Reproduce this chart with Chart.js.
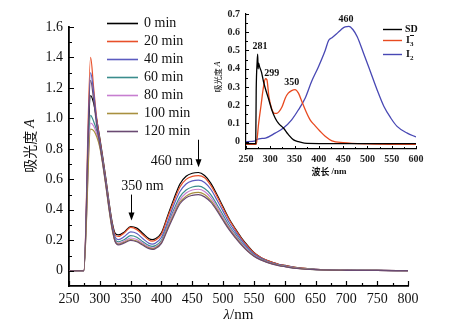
<!DOCTYPE html>
<html>
<head>
<meta charset="utf-8">
<script src="https://cdn.jsdelivr.net/npm/chart.js@4.4.1/dist/chart.umd.min.js"></script>
<style>
  html, body { margin:0; padding:0; background:#fff; }
  #wrap { position:relative; width:449px; height:328px; overflow:hidden; background:#fff; }
  #main { position:absolute; left:0; top:0; }
  #inset { position:absolute; left:205px; top:0; }
</style>
</head>
<body>
<div id="wrap">
  <canvas id="main" width="449" height="328"></canvas>
  <canvas id="inset" width="244" height="180"></canvas>
</div>
<script>
// ---------------- Main chart data ----------------
const wavelengths = [250,274,285,290,295,300,305,310,315,320,325,330,340,350,360,370,380,385,390,400,410,420,430,440,450,460,470,480,490,500,510,520,530,540,550,560,570,580,590,600,620,650,700,750,800];
const seriesLabels = ['0 min','20 min','40 min','60 min','80 min','100 min','120 min'];
const seriesColors = ['#000000','#e8502a','#5c5cc0','#3a8c8c','#c77ed0','#a8903f','#6a4a72'];
const s0min   = [0,0,1.15,1.10,0.99,0.87,0.74,0.60,0.45,0.32,0.245,0.235,0.255,0.29,0.28,0.245,0.21,0.205,0.21,0.25,0.36,0.47,0.57,0.62,0.64,0.645,0.625,0.575,0.50,0.42,0.34,0.275,0.215,0.165,0.12,0.09,0.07,0.055,0.043,0.035,0.02,0.01,0.004,0.002,0.001];
const s20min  = [0,0,1.40,1.20,1.00,0.86,0.73,0.59,0.44,0.31,0.235,0.225,0.25,0.285,0.27,0.235,0.20,0.195,0.20,0.24,0.35,0.455,0.55,0.60,0.62,0.625,0.61,0.56,0.49,0.41,0.335,0.27,0.21,0.16,0.118,0.09,0.07,0.055,0.043,0.035,0.02,0.01,0.004,0.002,0.001];
const s40min  = [0,0,1.30,1.17,0.98,0.85,0.72,0.58,0.43,0.30,0.22,0.205,0.225,0.255,0.245,0.21,0.18,0.175,0.18,0.22,0.32,0.43,0.52,0.57,0.59,0.595,0.58,0.535,0.465,0.39,0.315,0.255,0.20,0.15,0.11,0.085,0.065,0.05,0.04,0.032,0.018,0.009,0.004,0.002,0.001];
const s60min  = [0,0,1.02,0.98,0.92,0.83,0.71,0.57,0.42,0.29,0.205,0.19,0.205,0.23,0.22,0.19,0.165,0.16,0.165,0.20,0.30,0.40,0.485,0.53,0.55,0.555,0.54,0.50,0.435,0.365,0.295,0.24,0.185,0.14,0.104,0.08,0.062,0.048,0.038,0.03,0.017,0.008,0.003,0.002,0.001];
const s80min  = [0,0,0.97,0.95,0.90,0.82,0.70,0.56,0.41,0.28,0.195,0.18,0.195,0.215,0.205,0.18,0.155,0.15,0.155,0.19,0.29,0.385,0.465,0.51,0.53,0.535,0.52,0.48,0.42,0.35,0.285,0.23,0.178,0.135,0.10,0.077,0.06,0.046,0.036,0.029,0.016,0.008,0.003,0.002,0.001];
const s100min = [0,0,0.93,0.92,0.88,0.81,0.69,0.55,0.40,0.27,0.19,0.175,0.188,0.205,0.195,0.172,0.15,0.145,0.15,0.185,0.28,0.37,0.45,0.49,0.51,0.515,0.50,0.462,0.405,0.337,0.275,0.222,0.172,0.13,0.097,0.075,0.058,0.045,0.035,0.028,0.016,0.008,0.003,0.002,0.001];
const s120min = [0,0,1.25,1.12,0.95,0.83,0.70,0.56,0.41,0.28,0.19,0.17,0.183,0.20,0.19,0.167,0.145,0.14,0.145,0.18,0.27,0.36,0.44,0.48,0.495,0.50,0.485,0.45,0.395,0.33,0.268,0.216,0.168,0.127,0.095,0.073,0.057,0.044,0.034,0.027,0.015,0.007,0.003,0.002,0.001];
const mainSeries = [s0min,s20min,s40min,s60min,s80min,s100min,s120min];
const xTicks = [250,300,350,400,450,500,550,600,650,700,750,800];
const xMinorTicks = [275,325,375,425,475,525,575,625,675,725,775];
const yTicks = [0,0.2,0.4,0.6,0.8,1.0,1.2,1.4,1.6];
const yMinorTicks = [0.1,0.3,0.5,0.7,0.9,1.1,1.3,1.5];
const mainAnnotations = [{text:'350 nm', x:369, y:0.553}, {text:'460 nm', x:417, y:0.72}];
const mainArrows = [{x:350, from:0.50, to:0.33}, {x:460, from:0.86, to:0.68}];

// ---------------- Inset data ----------------
const sdWave  = [250,270,271,273,274,275,276,278,282,286,290,297,303,310,317,327,337,348,358,370,400,600];
const sdAbs   = [-0.01,-0.01,0.28,0.44,0.48,0.40,0.43,0.41,0.38,0.33,0.29,0.23,0.175,0.13,0.10,0.075,0.04,0.01,0.0,-0.008,-0.01,-0.01];
const i3Wave  = [250,271,276,281,286,290,293,297,303,309,313,318,324,331,337,344,351,358,365,372,382,392,403,413,427,450,500,600];
const i3Abs   = [-0.015,-0.015,0.10,0.20,0.30,0.345,0.34,0.25,0.18,0.155,0.155,0.165,0.19,0.24,0.266,0.28,0.285,0.266,0.22,0.175,0.12,0.088,0.056,0.03,0.005,-0.005,-0.012,-0.015];
const i2Wave  = [250,270,272,290,310,327,344,358,372,385,399,413,420,427,436,444,454,462,470,479,492,506,520,534,548,561,582,600];
const i2Abs   = [0.0,0.005,0.012,0.02,0.047,0.075,0.12,0.175,0.24,0.33,0.41,0.50,0.555,0.57,0.59,0.61,0.63,0.632,0.615,0.575,0.485,0.385,0.284,0.193,0.13,0.084,0.047,0.026];
const insetLabels = ['SD','I3-','I2'];
const insetColors = ['#000000','#e84a20','#4848b4'];
const insetXTicks = [250,300,350,400,450,500,550,600];
const insetXMinor = [275,325,375,425,475,525,575];
const insetYTicks = [0,0.1,0.2,0.3,0.4,0.5,0.6,0.7];
const insetYMinor = [0.05,0.15,0.25,0.35,0.45,0.55,0.65];
const insetAnnotations = [{text:'281', x:279, y:0.52}, {text:'299', x:303, y:0.375}, {text:'350', x:344, y:0.325}, {text:'460', x:456, y:0.67}];

const SERIF = '"Liberation Serif", "Times New Roman", serif';
const CJK = '"Noto Sans CJK SC", sans-serif';

function tickPlugin(cfg) {
  return {
    id: 'inTicks',
    afterDraw(chart) {
      const ctx = chart.ctx, xs = chart.scales.x, ys = chart.scales.y, a = chart.chartArea;
      ctx.save();
      ctx.strokeStyle = '#000';
      ctx.lineWidth = cfg.lw;
      const bottom = ys.getPixelForValue(ys.min);
      const left = a.left;
      ctx.beginPath();
      cfg.xMajor.forEach(v => { const px = Math.round(xs.getPixelForValue(v)) + 0.5; ctx.moveTo(px, bottom); ctx.lineTo(px, bottom - cfg.major); });
      cfg.xMinor.forEach(v => { const px = Math.round(xs.getPixelForValue(v)) + 0.5; ctx.moveTo(px, bottom); ctx.lineTo(px, bottom - cfg.minor); });
      cfg.yMajor.forEach(v => { const py = Math.round(ys.getPixelForValue(v)) + 0.5; ctx.moveTo(left, py); ctx.lineTo(left + cfg.major, py); });
      cfg.yMinor.forEach(v => { const py = Math.round(ys.getPixelForValue(v)) + 0.5; ctx.moveTo(left, py); ctx.lineTo(left + cfg.minor, py); });
      ctx.stroke();
      ctx.restore();
    }
  };
}

const mainDecor = {
  id: 'mainDecor',
  afterDraw(chart) {
    const ctx = chart.ctx, xs = chart.scales.x, ys = chart.scales.y;
    ctx.save();
    // legend (in series order)
    ctx.textBaseline = 'middle';
    ctx.textAlign = 'left';
    ctx.font = '14px ' + SERIF;
    seriesLabels.forEach((lab, i) => {
      const y = 23 + 18 * i;
      ctx.strokeStyle = seriesColors[i]; ctx.lineWidth = 1.6;
      ctx.beginPath(); ctx.moveTo(107, y + 0.5); ctx.lineTo(138, y + 0.5); ctx.stroke();
      ctx.fillStyle = '#111'; ctx.fillText(lab, 144, y);
    });
    // annotations
    ctx.textAlign = 'center';
    ctx.font = '14px ' + SERIF;
    mainAnnotations.forEach(an => ctx.fillText(an.text, xs.getPixelForValue(an.x), ys.getPixelForValue(an.y)));
    ctx.strokeStyle = '#000'; ctx.fillStyle = '#000'; ctx.lineWidth = 1;
    mainArrows.forEach(ar => {
      const px = Math.round(xs.getPixelForValue(ar.x)) + 0.5;
      const y1 = ys.getPixelForValue(ar.from), y2 = ys.getPixelForValue(ar.to);
      ctx.beginPath(); ctx.moveTo(px, y1); ctx.lineTo(px, y2 - 6); ctx.stroke();
      ctx.beginPath(); ctx.moveTo(px - 3, y2 - 8); ctx.lineTo(px + 3, y2 - 8); ctx.lineTo(px, y2); ctx.closePath(); ctx.fill();
    });
    // y title
    ctx.save();
    ctx.translate(30, 146);
    ctx.rotate(-Math.PI / 2);
    ctx.textBaseline = 'middle';
    const t1 = '吸光度 ';
    ctx.font = 'italic 14px ' + SERIF;
    const wA = ctx.measureText('A').width;
    ctx.font = '14px ' + CJK;
    const w1 = ctx.measureText(t1).width;
    const start = -(w1 + wA) / 2;
    ctx.textAlign = 'left';
    ctx.fillStyle = '#111';
    ctx.fillText(t1, start, 0);
    ctx.font = 'italic 14px ' + SERIF;
    ctx.fillText('A', start + w1, 0);
    ctx.restore();
    // x title
    ctx.textBaseline = 'middle';
    ctx.textAlign = 'left';
    ctx.font = 'italic 15px ' + SERIF;
    const wl = ctx.measureText('λ').width;
    ctx.font = '15px ' + SERIF;
    const wr = ctx.measureText('/nm').width;
    const xc = (chart.chartArea.left + chart.chartArea.right) / 2;
    const sx = xc - (wl + wr) / 2;
    ctx.fillStyle = '#111';
    ctx.font = 'italic 15px ' + SERIF;
    ctx.fillText('λ', sx, 315);
    ctx.font = '15px ' + SERIF;
    ctx.fillText('/nm', sx + wl, 315);
    ctx.restore();
  }
};

// datasets listed last-to-first so that the 0 min curve is drawn on top
const mainDatasets = mainSeries.map((s, i) => ({
  label: seriesLabels[i],
  data: wavelengths.map((w, j) => ({x: w, y: s[j]})),
  borderColor: seriesColors[i],
  borderWidth: 1.2,
  pointRadius: 0,
  fill: false,
  cubicInterpolationMode: 'monotone'
})).reverse();

new Chart(document.getElementById('main'), {
  type: 'line',
  data: {datasets: mainDatasets},
  options: {
    responsive: false, animation: false, devicePixelRatio: 1,
    layout: {padding: {left: 0, right: 41, top: 27, bottom: 0}},
    plugins: {legend: {display: false}, tooltip: {enabled: false}},
    scales: {
      x: {
        type: 'linear', min: 250, max: 800,
        afterFit(s) { s.height = 42; },
        afterBuildTicks(s) { s.ticks = xTicks.map(v => ({value: v})); },
        ticks: {font: {family: SERIF, size: 14}, color: '#111', padding: 5, maxRotation: 0, autoSkip: false},
        grid: {drawOnChartArea: false, drawTicks: false},
        border: {color: '#000', width: 1.8}
      },
      y: {
        type: 'linear', min: -0.1, max: 1.6,
        afterFit(s) { s.width = 69; },
        afterBuildTicks(s) { s.ticks = yTicks.map(v => ({value: v})); },
        ticks: {font: {family: SERIF, size: 14}, color: '#111', padding: 6, autoSkip: false,
                callback: v => (v === 0 ? '0' : Number(v).toFixed(1))},
        grid: {drawOnChartArea: false, drawTicks: false},
        border: {color: '#000', width: 1.8}
      }
    }
  },
  plugins: [mainDecor, tickPlugin({xMajor: xTicks, xMinor: xMinorTicks, yMajor: yTicks, yMinor: yMinorTicks, major: 5, minor: 3, lw: 1.2})]
});

// ---------------- Inset chart ----------------
const insetDecor = {
  id: 'insetDecor',
  afterDraw(chart) {
    const ctx = chart.ctx, xs = chart.scales.x, ys = chart.scales.y;
    ctx.save();
    ctx.fillStyle = '#111';
    ctx.textAlign = 'center';
    ctx.textBaseline = 'middle';
    ctx.font = 'bold 10px ' + SERIF;
    insetAnnotations.forEach(an => ctx.fillText(an.text, xs.getPixelForValue(an.x), ys.getPixelForValue(an.y)));
    // legend
    const rows = [29, 40, 54];
    chart.data.datasets.forEach((ds, i) => {
      const y = rows[i];
      ctx.strokeStyle = ds.borderColor; ctx.lineWidth = 1.4;
      ctx.beginPath(); ctx.moveTo(178, y + 0.5); ctx.lineTo(197, y + 0.5); ctx.stroke();
      ctx.fillStyle = '#111';
      ctx.textAlign = 'left';
      ctx.font = 'bold 10px ' + SERIF;
      if (i === 0) {
        ctx.fillText('SD', 200, y);
      } else {
        ctx.fillText('I', 201, y);
        ctx.font = 'bold 7px ' + SERIF;
        ctx.fillText(i === 1 ? '3' : '2', 205, y + 4);
        if (i === 1) {
          ctx.strokeStyle = '#111'; ctx.lineWidth = 1;
          ctx.beginPath(); ctx.moveTo(205, y - 4.5); ctx.lineTo(209, y - 4.5); ctx.stroke();
        }
      }
    });
    // y title
    ctx.save();
    ctx.translate(13, 77);
    ctx.rotate(-Math.PI / 2);
    ctx.textAlign = 'left';
    ctx.font = '8px ' + CJK;
    const t = '吸光度 ';
    const w1 = ctx.measureText(t).width;
    ctx.font = 'italic 8px ' + SERIF;
    const w2 = ctx.measureText('A').width;
    ctx.font = '8px ' + CJK;
    ctx.fillText(t, -(w1 + w2) / 2, 0);
    ctx.font = 'italic 8px ' + SERIF;
    ctx.fillText('A', -(w1 + w2) / 2 + w1, 0);
    ctx.restore();
    // x title
    ctx.textAlign = 'left';
    ctx.font = 'bold 9px ' + CJK;
    const tx = '波长';
    const wa = ctx.measureText(tx + ' ').width;
    ctx.font = 'bold 9px ' + SERIF;
    const wb = ctx.measureText('/nm').width;
    const xc = 329 - 205;
    ctx.font = 'bold 9px ' + CJK;
    ctx.fillText(tx, xc - (wa + wb) / 2, 172);
    ctx.font = 'bold 9px ' + SERIF;
    ctx.fillText('/nm', xc - (wa + wb) / 2 + wa, 172);
    ctx.restore();
  }
};

const insetSets = [[sdWave, sdAbs], [i3Wave, i3Abs], [i2Wave, i2Abs]];
new Chart(document.getElementById('inset'), {
  type: 'line',
  data: {
    datasets: insetSets.map((p, i) => ({
      label: insetLabels[i],
      data: p[0].map((w, j) => ({x: w, y: p[1][j]})),
      borderColor: insetColors[i],
      borderWidth: 1.3,
      pointRadius: 0,
      fill: false,
      cubicInterpolationMode: 'monotone'
    }))
  },
  options: {
    responsive: false, animation: false, devicePixelRatio: 1,
    layout: {padding: {left: 0, right: 33, top: 14, bottom: 0}},
    plugins: {legend: {display: false}, tooltip: {enabled: false}},
    scales: {
      x: {
        type: 'linear', min: 250, max: 600,
        afterFit(s) { s.height = 31; },
        afterBuildTicks(s) { s.ticks = insetXTicks.map(v => ({value: v})); },
        ticks: {font: {family: SERIF, size: 10, weight: 'bold'}, color: '#222', padding: 4, maxRotation: 0, autoSkip: false},
        grid: {drawOnChartArea: false, drawTicks: false},
        border: {color: '#000', width: 1.2}
      },
      y: {
        type: 'linear', min: -0.04, max: 0.7,
        afterFit(s) { s.width = 41; },
        afterBuildTicks(s) { s.ticks = insetYTicks.map(v => ({value: v})); },
        ticks: {font: {family: SERIF, size: 10, weight: 'bold'}, color: '#222', padding: 6, autoSkip: false,
                callback: v => (v === 0 ? '0' : Number(v).toFixed(1))},
        grid: {drawOnChartArea: false, drawTicks: false},
        border: {color: '#000', width: 1.2}
      }
    }
  },
  plugins: [insetDecor, tickPlugin({xMajor: insetXTicks, xMinor: insetXMinor, yMajor: insetYTicks, yMinor: insetYMinor, major: 3, minor: 2, lw: 1})]
});
</script>
</body>
</html>
